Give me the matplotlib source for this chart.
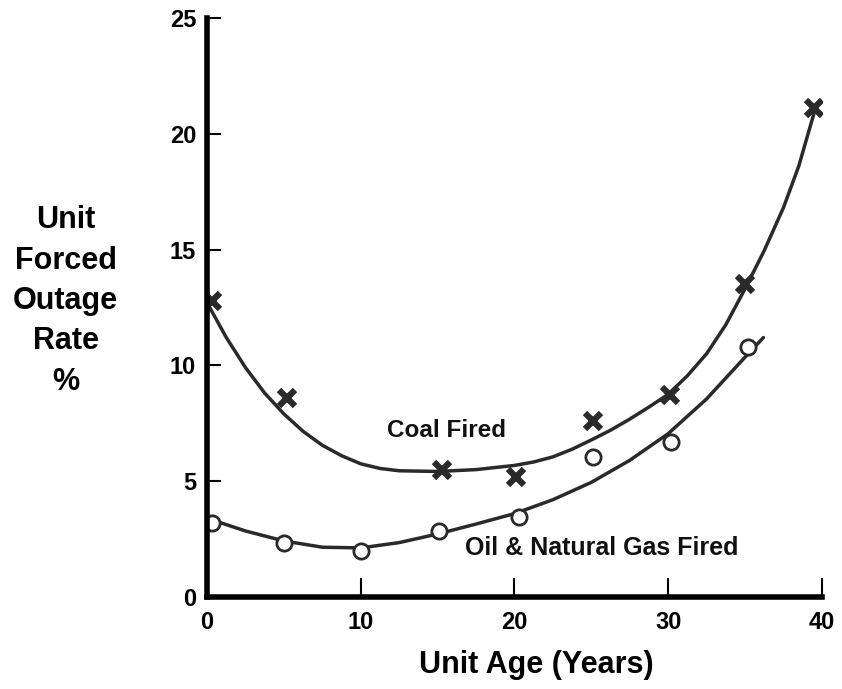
import matplotlib.pyplot as plt

plt.rcParams['font.family'] = ['Liberation Sans', 'DejaVu Sans']
plt.rcParams['font.weight'] = 'bold'

coal_age = [0.3, 5.2, 15.3, 20.1, 25.1, 30.1, 35.0, 39.5]
coal_rate = [12.8, 8.6, 5.5, 5.2, 7.6, 8.7, 13.5, 21.1]
gas_age = [0.3, 5.0, 10.0, 15.1, 20.3, 25.1, 30.2, 35.2]
gas_rate = [3.2, 2.35, 2.0, 2.85, 3.45, 6.05, 6.7, 10.8]

# 拟合曲线（沿曲线读取的点）
coal_curve_x = [0, 1.25, 2.5, 3.75, 5, 6.25, 7.5, 8.75, 10, 11.25, 12.5, 15, 17.5, 20,
                21.25, 22.5, 23.75, 25, 26.25, 27.5, 28.75, 30, 31.25, 32.5, 33.75, 35,
                36.25, 37.5, 38.5, 39.5]
coal_curve_y = [12.7, 11.2, 9.9, 8.8, 7.9, 7.15, 6.55, 6.1, 5.75, 5.55, 5.45, 5.42, 5.5, 5.68,
                5.83, 6.05, 6.38, 6.78, 7.2, 7.68, 8.2, 8.75, 9.55, 10.5, 11.75, 13.3,
                14.95, 16.8, 18.6, 20.9]
gas_curve_x = [0, 2.5, 5, 7.5, 10, 12.5, 15, 17.5, 20, 22.5, 25, 27.5, 30, 32.5, 35, 36.2]
gas_curve_y = [3.4, 2.85, 2.42, 2.15, 2.12, 2.35, 2.72, 3.15, 3.6, 4.2, 4.95, 5.9, 7.05, 8.55, 10.35, 11.2]

ink = '#2a2a2a'

fig = plt.figure(figsize=(8.42, 6.89), dpi=100)
ax = fig.add_axes([0.246, 0.1335, 0.73, 0.8405])

ax.plot(coal_curve_x, coal_curve_y, color=ink, lw=2.5, solid_capstyle='round', solid_joinstyle='round')
ax.plot(gas_curve_x, gas_curve_y, color=ink, lw=2.5, solid_capstyle='round', solid_joinstyle='round')
ax.plot(coal_age, coal_rate, ls='none', marker='x', ms=12, mew=4.5, color=ink)
ax.plot(gas_age, gas_rate, ls='none', marker='o', ms=11, mew=2, mfc='white', mec=ink)

ax.text(15.6, 7.2, 'Coal Fired', fontsize=17.5, ha='center', va='center', color='#111111')
ax.text(25.7, 2.1, 'Oil & Natural Gas Fired', fontsize=18, ha='center', va='center', color='#111111')

ax.set_xlim(0, 40)
ax.set_ylim(0, 25)
ax.set_xticks([0, 10, 20, 30, 40])
ax.set_yticks([0, 5, 10, 15, 20, 25])

for s in ['top', 'right']:
    ax.spines[s].set_visible(False)
for s in ['left', 'bottom']:
    ax.spines[s].set_linewidth(4)
    ax.spines[s].set_color('black')

ax.tick_params(axis='x', direction='in', length=14, width=1.5, labelsize=17, pad=10)
ax.tick_params(axis='y', direction='in', length=10, width=1.5, labelsize=17, pad=8)

ax.set_xlabel('Unit Age (Years)', fontsize=22, fontweight='bold')
ax.xaxis.set_label_coords(0.535, -0.092)
fig.text(0.078, 0.563, 'Unit\nForced\nOutage\nRate\n%', fontsize=22, ha='center', va='center',
         linespacing=1.45)

fig.savefig('out.png', dpi=100)
